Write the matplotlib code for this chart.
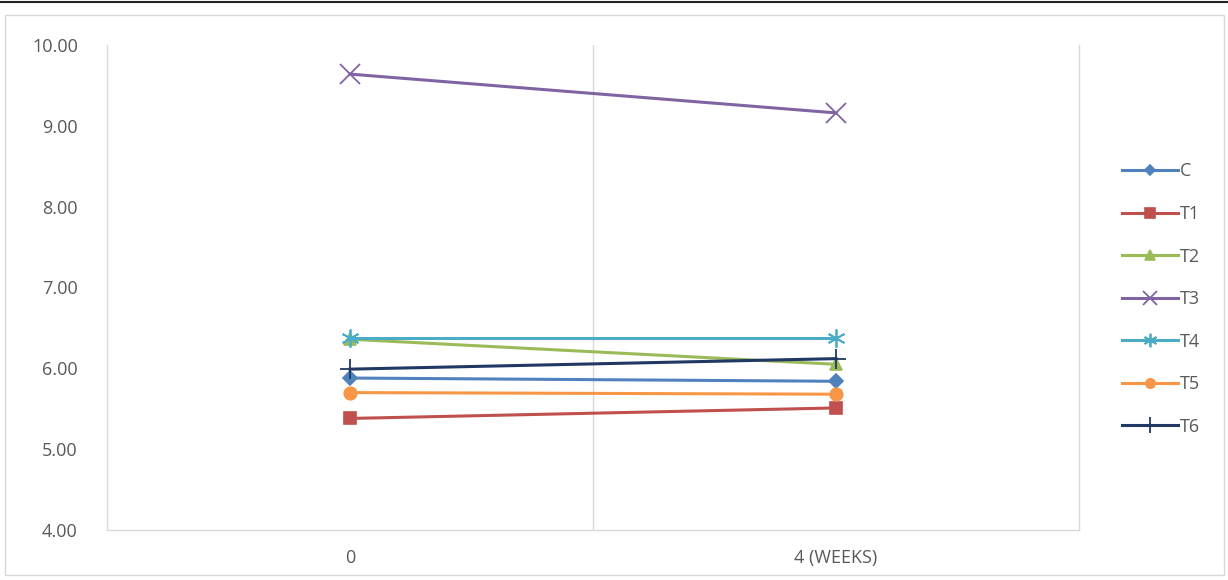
import matplotlib
matplotlib.use("Agg")
import matplotlib.pyplot as plt
from matplotlib.patches import Rectangle
from matplotlib.lines import Line2D

# Data
categories = ["0", "4 (WEEKS)"]
series_names = ["C", "T1", "T2", "T3", "T4", "T5", "T6"]
C = [5.88, 5.84]
T1 = [5.38, 5.51]
T2 = [6.36, 6.05]
T3 = [9.64, 9.16]
T4 = [6.37, 6.37]
T5 = [5.70, 5.68]
T6 = [5.99, 6.12]
y_ticks = [4.0, 5.0, 6.0, 7.0, 8.0, 9.0, 10.0]

values = [C, T1, T2, T3, T4, T5, T6]
colors = ["#4F81BD", "#C0504D", "#9BBB59", "#8064A2", "#4BACC6", "#F79646", "#1F3864"]
markers = ["D", "s", "^", "x", (6, 2, 0), "o", "+"]
msizes = [7, 9, 9, 14, 13, 9, 15]

plt.rcParams["font.family"] = ["Open Sans", "DejaVu Sans"]

fig = plt.figure(figsize=(12.28, 5.8), dpi=100)
fig.patch.set_facecolor("white")

# Outer chart border and top rule
fig.patches.append(Rectangle((5 / 1228, 5 / 580), 1219 / 1228, 560 / 580,
                             transform=fig.transFigure, fill=False,
                             edgecolor="#D9D9D9", linewidth=1.0))
fig.lines.append(Line2D([0, 1], [1 - 2 / 580, 1 - 2 / 580], transform=fig.transFigure,
                        color="#222222", linewidth=1.5))

ax = fig.add_axes([107 / 1228, 1 - 530 / 580, (1079 - 107) / 1228, (530 - 45) / 580])
ax.set_xlim(0, len(categories))
ax.set_ylim(4, 10)

xpos = [i + 0.5 for i in range(len(categories))]
for name, vals, col, mk, ms in zip(series_names, values, colors, markers, msizes):
    filled = mk in ("D", "s", "^", "o")
    ax.plot(xpos, vals, color=col, linewidth=2.2, marker=mk, markersize=ms,
            markerfacecolor=col if filled else "none", markeredgecolor=col,
            markeredgewidth=1.2 if filled else 1.3, label=name, zorder=3)

# Vertical category gridlines
for b in range(1, len(categories)):
    ax.axvline(b, color="#D9D9D9", linewidth=1.0, zorder=1)

ax.spines["top"].set_visible(False)
for side in ["left", "bottom", "right"]:
    ax.spines[side].set_color("#D9D9D9")
    ax.spines[side].set_linewidth(1.0)

ax.set_yticks(y_ticks)
ax.set_yticklabels([f"{v:.2f}" for v in y_ticks])
ax.set_xticks(xpos)
ax.set_xticklabels(categories)
ax.tick_params(axis="both", length=0, colors="#595959", labelsize=13)
ax.tick_params(axis="y", pad=21)
ax.tick_params(axis="x", pad=14)

leg = ax.legend(loc="center left", bbox_to_anchor=(1.044, 0.476), frameon=False,
                fontsize=13, labelcolor="#595959", handlelength=3.1,
                handletextpad=0.1, labelspacing=1.36, borderaxespad=0,
                borderpad=0, markerscale=0.75)

fig.savefig("out.png", dpi=100, facecolor="white")
